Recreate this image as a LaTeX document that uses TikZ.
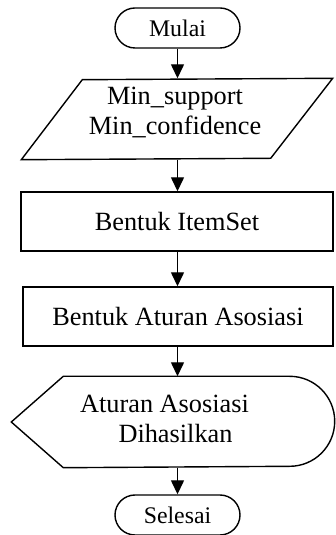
\documentclass[tikz,border=0pt]{standalone}
\usepackage{fontspec}
\setmainfont{Liberation Serif}
\usetikzlibrary{arrows.meta,shapes.misc,calc}
\begin{document}
\begin{tikzpicture}[x=1pt,y=1pt,
  line width=1.4pt,
  term/.style={draw, rounded rectangle, minimum width=125pt, minimum height=40pt, inner sep=0pt, font=\fontsize{23.8}{28}\selectfont},
  procbox/.style={draw, rectangle, inner sep=0pt, minimum height=59pt, font=\fontsize{26.3}{30}\selectfont},
  frame/.style={inner sep=0pt},
  body/.style={inner sep=0pt, font=\fontsize{26.3}{30}\selectfont},
  flow/.style={-{Triangle[width=13pt,length=14pt]}},
]
\useasboundingbox (0,0) rectangle (335,535);

% start
\node[term] (start) at (177.5,507) {Mulai};

% input parallelogram
\node[frame, minimum width=310pt, minimum height=80pt] (input) at (177,416) {};
\draw (input.south west) -- ++(61,80) -- (input.north east) -- ++(-62,-80) -- cycle;
\node[body, align=center] (inputtxt) at (175,423) {Min\_support\\Min\_confidence};

% process boxes
\node[procbox, minimum width=312pt] (b1) at (177,313.5) {Bentuk ItemSet};
\node[procbox, minimum width=310pt] (b2) at (178,218.5) {Bentuk Aturan Asosiasi};

% display shape
\node[frame, minimum width=322pt, minimum height=90pt] (out) at (173,113) {};
\draw (out.west) -- ($(out.north west)+(52,0)$) -- ($(out.north east)+(-45,0)$)
      arc[start angle=90, end angle=-90, radius=45] -- ($(out.south west)+(52,0)$) -- cycle;
\node[body, align=center] (outtxt) at (164.5,116) {Aturan Asosiasi\\\hspace*{22pt}Dihasilkan};

% end
\node[term] (end) at (177.5,20) {Selesai};

% connectors
\draw[flow] (start.south) -- (start.south |- input.north);
\draw[flow] (start.south |- input.south) -- (start.south |- b1.north);
\draw[flow] (start.south |- b1.south) -- (start.south |- b2.north);
\draw[flow] (start.south |- b2.south) -- (start.south |- out.north);
\draw[flow] (start.south |- out.south) -- (end.north);
\end{tikzpicture}
\end{document}
